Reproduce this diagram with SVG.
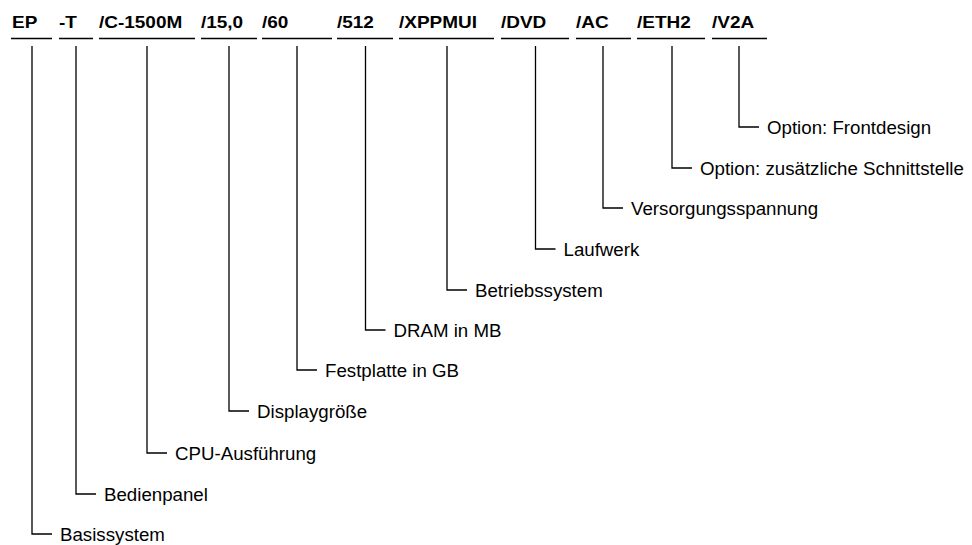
<svg xmlns="http://www.w3.org/2000/svg" width="972" height="545" viewBox="0 0 972 545">
<style>
.code{font-family:"Liberation Sans",Arial,sans-serif;font-weight:bold;font-size:16.5px;fill:#000}
.lbl{font-family:"Liberation Sans",Arial,sans-serif;font-size:18.7px;fill:#000}
.ul{stroke:#000;stroke-width:1.3;fill:none}
.conn{stroke:#000;stroke-width:1.3;fill:none}
</style>
<rect width="972" height="545" fill="#fff"/>
<g id="codes">
<g id="c-ep"><text class="code" transform="translate(12,28) scale(1.15,1)">EP</text><line class="ul" x1="11" y1="38.5" x2="52" y2="38.5"/></g>
<g id="c-t"><text class="code" transform="translate(59,28) scale(1.15,1)">-T</text><line class="ul" x1="59" y1="38.5" x2="93" y2="38.5"/></g>
<g id="c-cpu"><text class="code" transform="translate(99,28) scale(1.15,1)">/C-1500M</text><line class="ul" x1="99" y1="38.5" x2="195" y2="38.5"/></g>
<g id="c-disp"><text class="code" transform="translate(201,28) scale(1.15,1)">/15,0</text><line class="ul" x1="201" y1="38.5" x2="257" y2="38.5"/></g>
<g id="c-hd"><text class="code" transform="translate(262,28) scale(1.15,1)">/60</text><line class="ul" x1="262" y1="38.5" x2="332" y2="38.5"/></g>
<g id="c-ram"><text class="code" transform="translate(337,28) scale(1.15,1)">/512</text><line class="ul" x1="337" y1="38.5" x2="393" y2="38.5"/></g>
<g id="c-os"><text class="code" transform="translate(399,28) scale(1.15,1)">/XPPMUI</text><line class="ul" x1="399" y1="38.5" x2="494" y2="38.5"/></g>
<g id="c-dvd"><text class="code" transform="translate(501,28) scale(1.15,1)">/DVD</text><line class="ul" x1="501" y1="38.5" x2="569" y2="38.5"/></g>
<g id="c-ac"><text class="code" transform="translate(576,28) scale(1.15,1)">/AC</text><line class="ul" x1="576" y1="38.5" x2="631" y2="38.5"/></g>
<g id="c-eth"><text class="code" transform="translate(637,28) scale(1.15,1)">/ETH2</text><line class="ul" x1="637" y1="38.5" x2="705" y2="38.5"/></g>
<g id="c-v2a"><text class="code" transform="translate(712,28) scale(1.15,1)">/V2A</text><line class="ul" x1="712" y1="38.5" x2="767" y2="38.5"/></g>
</g>
<g id="connectors">
<path class="conn" d="M32,46 V534 H52"/>
<path class="conn" d="M76,46 V494 H96"/>
<path class="conn" d="M147,46 V453 H167"/>
<path class="conn" d="M229,46 V411 H249"/>
<path class="conn" d="M297,46 V370 H317"/>
<path class="conn" d="M365.5,46 V330 H385.5"/>
<path class="conn" d="M447,46 V290 H467"/>
<path class="conn" d="M535.5,46 V249 H555.5"/>
<path class="conn" d="M603,46 V208 H623"/>
<path class="conn" d="M672,46 V168 H692"/>
<path class="conn" d="M739,46 V127 H759"/>
</g>
<g id="labels">
<g id="l-basis"><text class="lbl" x="60" y="540.5">Basissystem</text></g>
<g id="l-bed"><text class="lbl" x="104" y="500.5">Bedienpanel</text></g>
<g id="l-cpu"><text class="lbl" x="175" y="459.5">CPU-Ausführung</text></g>
<g id="l-disp"><text class="lbl" x="257" y="417.5">Displaygröße</text></g>
<g id="l-hd"><text class="lbl" x="325" y="376.5">Festplatte in GB</text></g>
<g id="l-ram"><text class="lbl" x="393.5" y="336.5">DRAM in MB</text></g>
<g id="l-os"><text class="lbl" x="475" y="296.5">Betriebssystem</text></g>
<g id="l-dvd"><text class="lbl" x="563.5" y="255.5">Laufwerk</text></g>
<g id="l-ac"><text class="lbl" x="631" y="214.5">Versorgungsspannung</text></g>
<g id="l-eth"><text class="lbl" x="700" y="174.5">Option: zusätzliche Schnittstelle</text></g>
<g id="l-v2a"><text class="lbl" x="767" y="133.5">Option: Frontdesign</text></g>
</g>
</svg>
